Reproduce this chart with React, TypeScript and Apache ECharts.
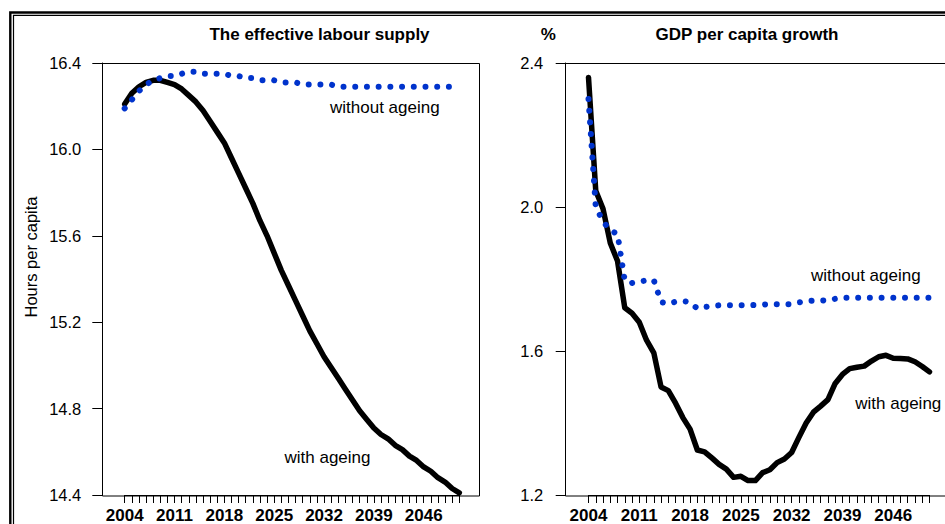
import React, { useEffect, useRef } from 'react';
import * as echarts from 'echarts';

const years = [
  '2004', '2005', '2006', '2007', '2008', '2009', '2010', '2011', '2012', '2013',
  '2014', '2015', '2016', '2017', '2018', '2019', '2020', '2021', '2022', '2023',
  '2024', '2025', '2026', '2027', '2028', '2029', '2030', '2031', '2032', '2033',
  '2034', '2035', '2036', '2037', '2038', '2039', '2040', '2041', '2042', '2043',
  '2044', '2045', '2046', '2047', '2048', '2049', '2050', '2051',
];

const labourWithAgeing = [
  16.21, 16.26, 16.29, 16.31, 16.32, 16.32, 16.31, 16.30, 16.28, 16.25,
  16.22, 16.18, 16.13, 16.08, 16.03, 15.96, 15.89, 15.82, 15.75, 15.67,
  15.60, 15.52, 15.44, 15.37, 15.30, 15.23, 15.16, 15.10, 15.04, 14.99,
  14.94, 14.89, 14.84, 14.79, 14.75, 14.71, 14.68, 14.66, 14.63, 14.61,
  14.58, 14.56, 14.53, 14.51, 14.48, 14.46, 14.43, 14.41,
];

const labourWithoutAgeing = [
  16.19, 16.23, 16.27, 16.30, 16.32, 16.33, 16.34, 16.34, 16.35, 16.36,
  16.36, 16.35, 16.35, 16.35, 16.35, 16.34, 16.34, 16.33, 16.33, 16.32,
  16.32, 16.32, 16.31, 16.31, 16.31, 16.30, 16.30, 16.30, 16.30, 16.30,
  16.29, 16.29, 16.29, 16.29, 16.29, 16.29, 16.29, 16.29, 16.29, 16.29,
  16.29, 16.29, 16.29, 16.29, 16.29, 16.29, 16.29, 16.29,
];

const gdpWithAgeing = [
  2.36, 2.045, 1.995, 1.90, 1.85, 1.72, 1.705, 1.68, 1.63, 1.595,
  1.50, 1.49, 1.455, 1.415, 1.383, 1.325, 1.32, 1.303, 1.285, 1.272,
  1.249, 1.252, 1.24, 1.24, 1.262, 1.27, 1.29, 1.30, 1.318, 1.36,
  1.40, 1.43, 1.447, 1.465, 1.51, 1.535, 1.551, 1.555, 1.558, 1.572,
  1.584, 1.588, 1.58, 1.579, 1.578, 1.57, 1.557, 1.542,
];

const gdpWithoutAgeing = [
  2.30, 2.00, 1.96, 1.935, 1.925, 1.795, 1.789, 1.793, 1.796, 1.797,
  1.736, 1.731, 1.737, 1.739, 1.735, 1.718, 1.722, 1.725, 1.727, 1.727,
  1.727, 1.727, 1.727, 1.728, 1.729, 1.730, 1.730, 1.730, 1.730, 1.735,
  1.738, 1.740, 1.740, 1.741, 1.745, 1.748, 1.748, 1.748, 1.748, 1.748,
  1.748, 1.748, 1.748, 1.748, 1.748, 1.748, 1.748, 1.748,
];

const FONT = '"Liberation Sans", Arial, Helvetica, sans-serif';
const BLUE = '#0033cc';

function xAxis(gridIndex: number) {
  return {
    type: 'category',
    gridIndex,
    data: years,
    boundaryGap: false,
    axisLine: { show: true, lineStyle: { color: '#000', width: 1 } },
    axisTick: { show: true, interval: 0, length: 8, lineStyle: { color: '#000', width: 1 } },
    axisLabel: {
      interval: 6,
      margin: 12,
      color: '#000',
      fontFamily: FONT,
      fontSize: 17,
      fontWeight: 'bold',
    },
    splitLine: { show: false },
  };
}

function yAxis(gridIndex: number, min: number, max: number, offset: number, margin: number) {
  return {
    type: 'value',
    gridIndex,
    min,
    max,
    interval: 0.4,
    offset,
    position: 'left',
    axisLine: { show: true, lineStyle: { color: '#000', width: 1 } },
    axisTick: { show: true, length: 10, lineStyle: { color: '#000', width: 1 } },
    axisLabel: {
      margin,
      color: '#000',
      fontFamily: FONT,
      fontSize: 16.5,
      showMinLabel: true,
      showMaxLabel: true,
      formatter: (v: number) => v.toFixed(1),
    },
    splitLine: { show: false },
  };
}

function solid(x: number, y: number, data: number[]) {
  return {
    type: 'line',
    xAxisIndex: x,
    yAxisIndex: y,
    data,
    symbol: 'none',
    silent: true,
    lineStyle: { color: '#000', width: 5.5, cap: 'round', join: 'round' },
  };
}

function dotted(x: number, y: number, data: number[]) {
  return {
    type: 'line',
    xAxisIndex: x,
    yAxisIndex: y,
    data,
    symbol: 'none',
    silent: true,
    lineStyle: { color: BLUE, width: 6, type: [0.01, 11.7], cap: 'round', join: 'round' },
  };
}

function label(text: string, x: number, y: number, size: number, bold: boolean, rotation = 0) {
  return {
    type: 'text',
    x,
    y,
    rotation,
    silent: true,
    style: {
      text,
      fill: '#000',
      fontFamily: FONT,
      fontSize: size,
      fontWeight: bold ? 'bold' : 'normal',
      align: 'center',
      verticalAlign: 'middle',
    },
  };
}

const option = {
  animation: false,
  backgroundColor: '#fff',
  grid: [
    { left: 124.7, right: 945 - 459.3, top: 63, bottom: 28 },
    { left: 588.5, right: 945 - 929.5, top: 63, bottom: 28 },
  ],
  xAxis: [xAxis(0), xAxis(1)],
  yAxis: [yAxis(0, 14.4, 16.4, 22.4, 21), yAxis(1, 1.2, 2.4, 22.8, 22.4)],
  series: [
    solid(0, 0, labourWithAgeing),
    dotted(0, 0, labourWithoutAgeing),
    solid(1, 1, gdpWithAgeing),
    dotted(1, 1, gdpWithoutAgeing),
  ],
  graphic: [
    {
      type: 'polyline',
      silent: true,
      shape: { points: [[10.3, 540], [10.3, 12.5], [960, 12.5]] },
      style: { stroke: '#000', lineWidth: 2.4, fill: 'none' },
    },
    {
      type: 'polyline',
      silent: true,
      shape: { points: [[13.5, 540], [13.5, 15.4], [960, 15.4]] },
      style: { stroke: '#000', lineWidth: 1.2, fill: 'none' },
    },
    {
      type: 'rect',
      silent: true,
      shape: { x: 102.5, y: 63.5, width: 377, height: 432.5 },
      style: { stroke: '#000', lineWidth: 1, fill: 'none' },
    },
    {
      type: 'rect',
      silent: true,
      shape: { x: 565.5, y: 63.5, width: 420, height: 432.5 },
      style: { stroke: '#000', lineWidth: 1, fill: 'none' },
    },
    label('The effective labour supply', 319.5, 34, 17, true),
    label('GDP per capita growth', 747, 34, 17, true),
    label('%', 548.3, 34, 17, true),
    label('Hours per capita', 31, 257, 16.5, false, Math.PI / 2),
    label('without ageing', 384.8, 107, 17, false),
    label('with ageing', 327.5, 457, 17, false),
    label('without ageing', 865.8, 275, 17, false),
    label('with ageing', 898.3, 403, 17, false),
  ],
};

export default function App() {
  const ref = useRef<HTMLDivElement>(null);
  useEffect(() => {
    document.body.style.margin = '0';
    const chart = echarts.init(ref.current!, null, { renderer: 'svg' });
    chart.setOption(option as any);
    return () => {
      chart.dispose();
    };
  }, []);
  return <div ref={ref} style={{ width: 945, height: 524 }} />;
}
